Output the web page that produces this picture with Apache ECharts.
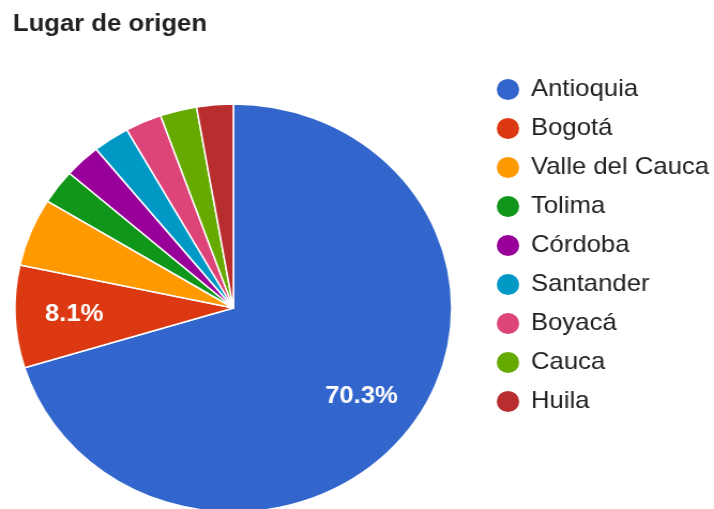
<!DOCTYPE html>
<html>
<head>
<meta charset="utf-8">
<script src="https://cdn.jsdelivr.net/npm/echarts@6/dist/echarts.min.js"></script>
<style>
  html, body { margin: 0; padding: 0; background: #fff; overflow: hidden; }
  /* the reference picture is stretched a little sideways, so is this one */
  #chart { width: 667px; height: 509px; transform: scaleX(1.0705); transform-origin: 0 0; }
</style>
</head>
<body>
<div id="chart"></div>
<script>
const TITLE = 'Lugar de origen';
const regions = ['Antioquia', 'Bogotá', 'Valle del Cauca', 'Tolima', 'Córdoba', 'Santander', 'Boyacá', 'Cauca', 'Huila'];
const counts = [26, 3, 2, 1, 1, 1, 1, 1, 1];

const SLICE_COLORS = ['#3366cc', '#dc3912', '#ff9900', '#109618', '#990099', '#0099c6', '#dd4477', '#66aa00', '#b82e2e'];

const FONT = '"Liberation Sans", Arial, sans-serif';
const RADIUS = 204;
const CENTER = [218, 308];

const chart = echarts.init(document.getElementById('chart'));

const pieData = regions.map((name, i) => ({
  name,
  value: counts[i],
  itemStyle: { color: SLICE_COLORS[i] }
}));

// google only writes the percent on slices that are big enough
const labelFmt = (p) => (p.percent >= 7 ? p.percent.toFixed(1) + '%' : '');

chart.setOption({
  animation: false,
  title: {
    text: TITLE,
    left: 7,
    top: 7,
    textStyle: { fontFamily: FONT, fontSize: 24, fontWeight: 'bold', color: '#222' }
  },
  legend: {
    orient: 'vertical',
    left: 457,
    top: 72,
    icon: 'circle',
    itemWidth: 23,
    itemHeight: 23,
    itemGap: 14,
    data: regions.map((name, i) => ({ name, itemStyle: { color: SLICE_COLORS[i] } })),
    textStyle: { fontFamily: FONT, fontSize: 24, lineHeight: 24, color: '#222', padding: [0, 0, 0, 5] }
  },
  series: [
    {
      type: 'pie',
      center: CENTER,
      radius: [0, RADIUS],
      startAngle: 90,
      clockwise: true,
      avoidLabelOverlap: false,
      silent: true,
      itemStyle: { borderColor: '#fff', borderWidth: 1.5 },
      label: { show: false },
      labelLine: { show: false },
      data: pieData
    },
    {
      // invisible ring, used only to push the labels further out
      type: 'pie',
      center: CENTER,
      radius: [0, RADIUS * 1.43],
      startAngle: 90,
      clockwise: true,
      avoidLabelOverlap: false,
      silent: true,
      z: 3,
      itemStyle: { color: 'transparent', borderWidth: 0 },
      label: {
        show: true,
        position: 'inside',
        formatter: labelFmt,
        fontFamily: FONT,
        fontSize: 24,
        fontWeight: 'bold',
        color: '#fff'
      },
      labelLine: { show: false },
      data: regions.map((name, i) => ({ name, value: counts[i] }))
    }
  ]
});
</script>
</body>
</html>
